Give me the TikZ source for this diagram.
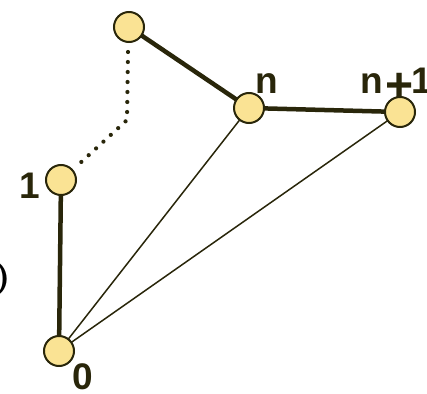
\documentclass[tikz,border=0pt]{standalone}
\usepackage{fontspec}
\newfontfamily\labelfont{Liberation Sans}
\newlength{\du}
\setlength{\du}{10pt}
\definecolor{nodefillcolor}{rgb}{0.980000, 0.890000, 0.580000}
\definecolor{nodelinecolor}{rgb}{0.160000, 0.150000, 0.040000}
\tikzset{
  vertex/.style={circle, draw=nodelinecolor, fill=nodefillcolor, line width=0.200000\du, minimum size=3.000000\du, inner sep=0pt},
  vlabel/.style={font=\labelfont\bfseries\fontsize{37}{37}\selectfont, text=nodelinecolor, inner sep=0pt},
  edge/.style={draw=nodelinecolor, line width=0.450000\du},
  chord/.style={draw=nodelinecolor, line width=0.150000\du},
  dotline/.style={draw=nodelinecolor, line width=0.420000\du, line cap=round, dash pattern=on 0pt off 1.000000\du},
}
\begin{document}
\begin{tikzpicture}
\pgftransformxscale{1.000000}
\pgftransformyscale{-1.000000}
\useasboundingbox (0\du,0\du) rectangle (42.700000\du,39.300000\du);
% setfont left to latex
\node[anchor=base east, font=\fontsize{54}{54}\selectfont, inner sep=0pt] (dmark) at (0.950000\du,29.700000\du){D};
% vertices
\coordinate (vtop) at (12.900000\du,2.700000\du);
\coordinate (vn) at (24.900000\du,10.800000\du);
\coordinate (vnext) at (40.000000\du,11.200000\du);
\coordinate (vone) at (6.100000\du,18.000000\du);
\coordinate (vzero) at (5.900000\du,35.100000\du);
\coordinate (bend) at (12.700000\du,12.000000\du);
% thin chords
\draw[chord] (vzero) -- (vn);
\draw[chord] (vzero) -- (vnext);
% thick edges
\draw[edge] (vzero) -- (vone);
\draw[edge] (vtop) -- (vn);
\draw[edge] (vn) -- (vnext);
% was here!!!
\draw[dotline] (12.800000\du,5.200000\du) -- (bend) -- (7.800000\du,16.500000\du);
\node[vertex] (top) at (vtop){};
\node[vertex] (n) at (vn){};
\node[vertex] (next) at (vnext){};
\node[vertex] (one) at (vone){};
\node[vertex] (zero) at (vzero){};
% setfont left to latex
\node[vlabel, anchor=base] (nlab) at (26.700000\du,9.300000\du){n};
\node[vlabel, anchor=base west] (nextlab) at (36.000000\du,9.300000\du){n\kern3pt\raisebox{-8pt}{\scalebox{1.3}{+}}\kern-2pt1};
\node[vlabel, anchor=base] (onelab) at (3.000000\du,19.800000\du){1};
\node[vlabel, anchor=base] (zerolab) at (8.300000\du,38.900000\du){0};
\end{tikzpicture}
\end{document}
